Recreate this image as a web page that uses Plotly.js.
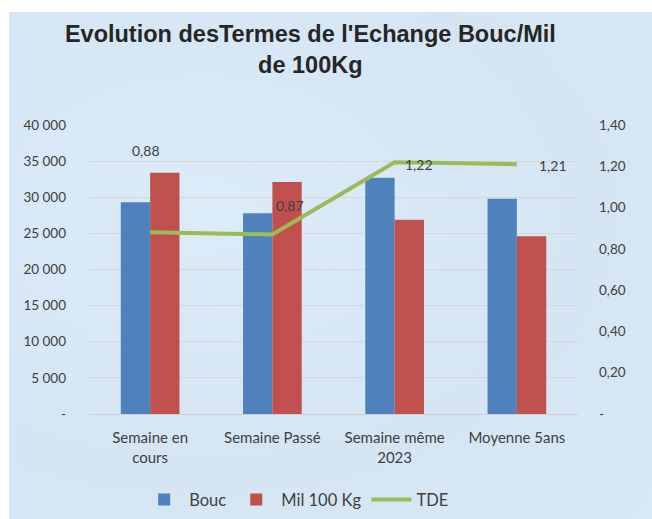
<!DOCTYPE html>
<html>
<head>
<meta charset="utf-8">
<script src="https://cdn.plot.ly/plotly-3.0.1.min.js"></script>
<style>
  html, body { margin: 0; padding: 0; background: #ffffff; }
  #bg { position: absolute; left: 9px; top: 12px; width: 643px; height: 507px;
        background: radial-gradient(ellipse at 30% 40%, #dcebf8 0%, #d5e5f4 60%, #d9e8f6 100%); }
  #chart { position: absolute; left: 0; top: 0; width: 652px; height: 519px; }
</style>
</head>
<body>
<div id="bg"></div>
<div id="chart"></div>
<script>
const categories = ["Semaine en<br>cours", "Semaine Passé", "Semaine même<br>2023", "Moyenne 5ans"];
const bouc = [29300, 27800, 32700, 29800];
const mil = [33400, 32100, 26900, 24600];
const tde = [0.88, 0.87, 1.22, 1.21];
const tdeLabels = ["0,88", "0,87", "1,22", "1,21"];
const leftTickVals = [0, 5000, 10000, 15000, 20000, 25000, 30000, 35000, 40000];
const leftTickText = ["-", "5 000", "10 000", "15 000", "20 000", "25 000", "30 000", "35 000", "40 000"];
const rightTickVals = [0, 0.2, 0.4, 0.6, 0.8, 1.0, 1.2, 1.4];
const rightTickText = ["-", "0,20", "0,40", "0,60", "0,80", "1,00", "1,20", "1,40"];
const labelShiftX = [-4, 18, 24, 36];
const labelShiftY = [82, 29, -2, -1];

const tickFont = { family: "Lato, 'Noto Sans', sans-serif", size: 13.5, color: "#404040" };

const traces = [
  { type: "bar", name: "Bouc", x: categories, y: bouc, marker: { color: "#4f81bd" }, hoverinfo: "skip" },
  { type: "bar", name: "Mil 100 Kg", x: categories, y: mil, marker: { color: "#c0504d" }, hoverinfo: "skip" },
  { type: "scatter", mode: "lines", name: "TDE", x: categories, y: tde, yaxis: "y2",
    line: { color: "#9bbb59", width: 4 }, hoverinfo: "skip" }
];

const annotations = categories.map((c, i) => ({
  x: c, y: tde[i], xref: "x", yref: "y2", text: tdeLabels[i], showarrow: false,
  xshift: labelShiftX[i], yshift: labelShiftY[i],
  font: { family: "Lato, 'Noto Sans', sans-serif", size: 14, color: "#404040" }
}));

const layout = {
  width: 652, height: 519,
  paper_bgcolor: "rgba(0,0,0,0)", plot_bgcolor: "rgba(0,0,0,0)",
  margin: { l: 89, r: 74, t: 125, b: 105 },
  barmode: "group", bargap: 0.52, bargroupgap: 0,
  title: {
    text: "<b>Evolution desTermes de l'Echange Bouc/Mil<br>de 100Kg</b>",
    xref: "container", x: 0.476, xanchor: "center",
    yref: "container", y: 0.919, yanchor: "middle",
    font: { family: "'Liberation Sans', Arial, sans-serif", size: 23.5, color: "#262626" }
  },
  xaxis: {
    tickfont: { family: "Lato, 'Noto Sans', sans-serif", size: 15, color: "#404040" },
    showline: true, linecolor: "#d0d0d0", linewidth: 1, ticks: "", showgrid: false,
    ticklabelstandoff: 10
  },
  yaxis: {
    range: [0, 40000], tickvals: leftTickVals, ticktext: leftTickText,
    tickfont: tickFont, showgrid: true, gridcolor: "#d6d6d6", gridwidth: 1,
    zeroline: false, showline: false, ticks: "", ticklabelstandoff: 22
  },
  yaxis2: {
    range: [0, 1.4], tickvals: rightTickVals, ticktext: rightTickText,
    overlaying: "y", side: "right", tickfont: tickFont, showgrid: false,
    zeroline: false, showline: false, ticks: "", ticklabelstandoff: 20
  },
  legend: {
    orientation: "h", xref: "container", x: 0.455, xanchor: "center",
    yref: "container", y: 0.037, yanchor: "middle",
    font: { family: "Lato, 'Noto Sans', sans-serif", size: 16.5, color: "#404040" },
    bgcolor: "rgba(0,0,0,0)", itemwidth: 40, tracegroupgap: 0
  },
  annotations: annotations,
  showlegend: true
};

Plotly.newPlot("chart", traces, layout, { displayModeBar: false, staticPlot: true });
</script>
</body>
</html>
